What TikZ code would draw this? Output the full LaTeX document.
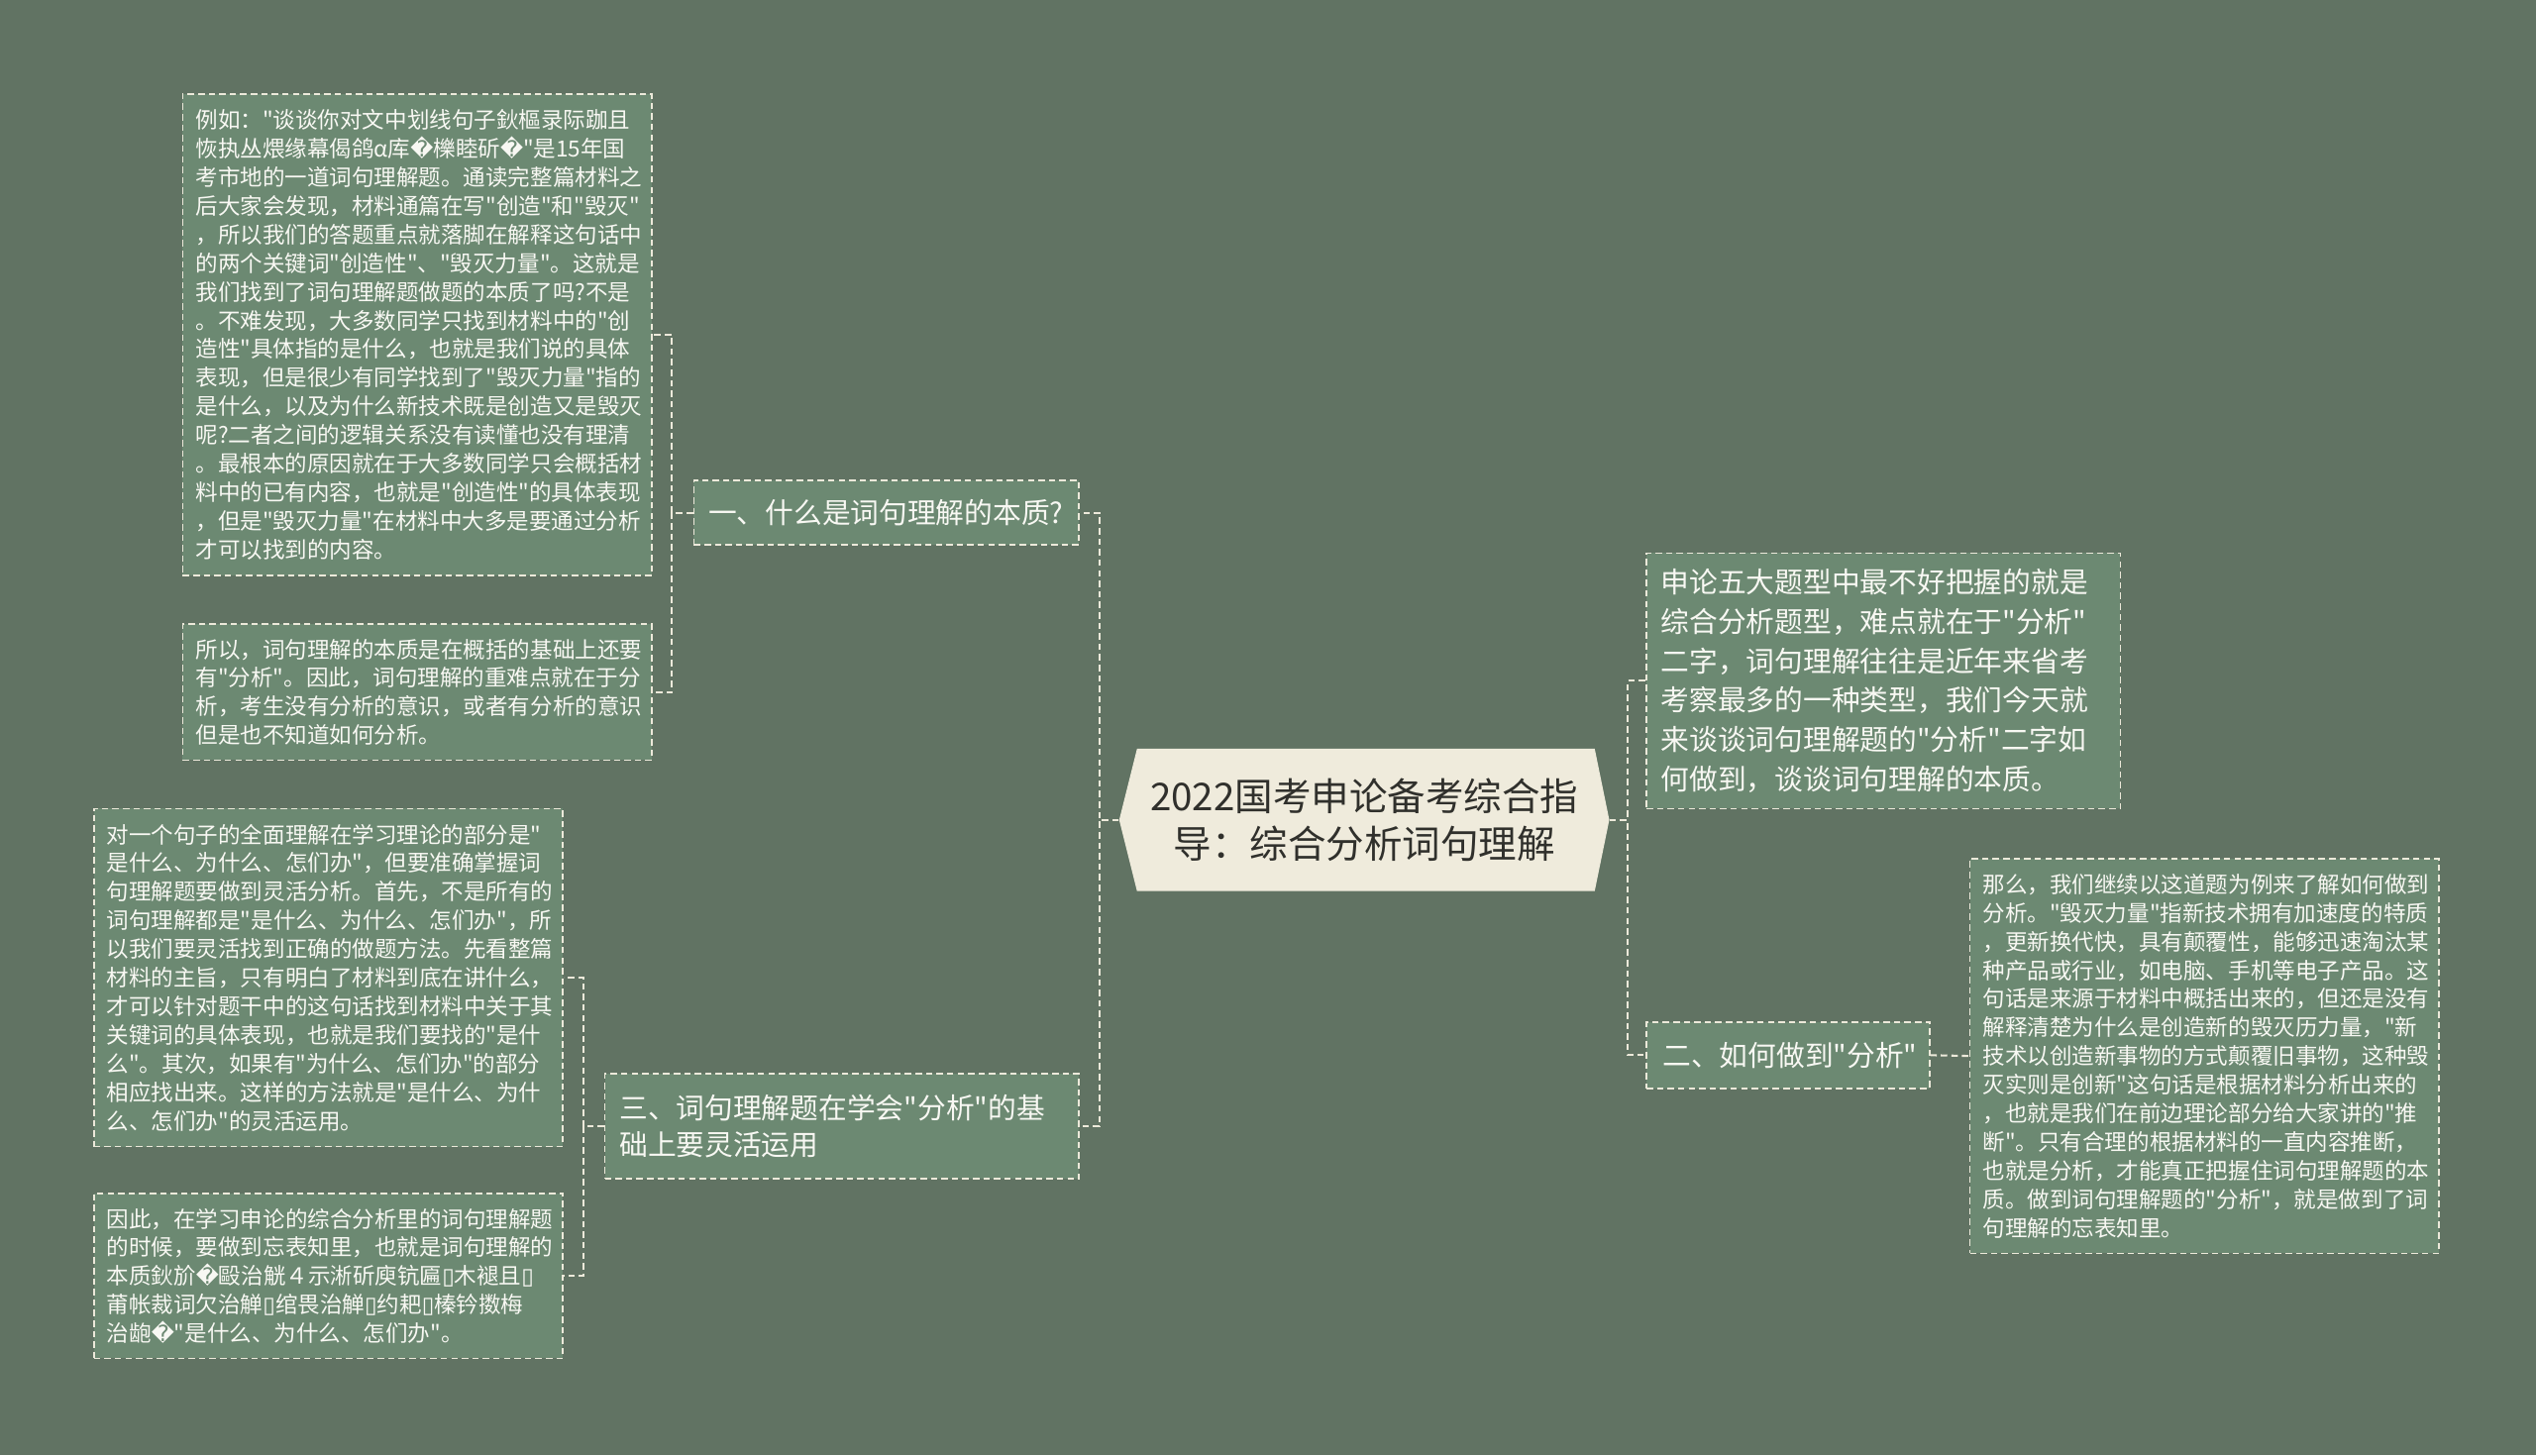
\documentclass[tikz,border=0pt]{standalone}
\usepackage{fontspec}
\setmainfont{Noto Sans CJK SC}[Ligatures=TeXOff]
\newfontfamily\symfont{DejaVu Sans}
\newcommand{\badch}{{\symfont ^^^^fffd}}
\newcommand{\nogl}{{\symfont\fontsize{14pt}{14pt}\selectfont ^^^^25af}}
\definecolor{bgc}{RGB}{97,115,99}
\definecolor{boxc}{RGB}{108,137,114}
\definecolor{linec}{RGB}{236,233,218}
\definecolor{txtc}{RGB}{248,248,243}
\definecolor{rootc}{RGB}{239,235,220}
\definecolor{roottxt}{RGB}{48,48,44}
\tikzset{
  leaf/.style={draw=linec, line width=1pt, dash pattern=on 4pt off 2.5pt, fill=boxc, text=txtc,
    font=\fontsize{13.8pt}{17.7pt}\selectfont, inner xsep=8pt, inner ysep=0pt,
    text width=274pt, align=left, minimum width=290pt},
  topic/.style={leaf, font=\fontsize{17.6pt}{23pt}\selectfont, inner xsep=9pt},
  link/.style={draw=linec, line width=1.3pt, dash pattern=on 4pt off 2.5pt},
}

\begin{document}
\begin{tikzpicture}[x=1pt,y=-1pt]
        \fill[bgc] (0,0) rectangle (1568,900);
        \useasboundingbox (0,0) rectangle (1568,900);

        \node[font=\fontsize{23.6pt}{29pt}\selectfont, text=roottxt, align=center, fill=bgc,
          minimum width=303pt, minimum height=88pt, inner sep=0pt,
          path picture={\fill[rootc] (path picture bounding box.west)
            -- ([xshift=11pt]path picture bounding box.north west)
            -- ([xshift=-9pt]path picture bounding box.north east)
            -- (path picture bounding box.east)
            -- ([xshift=-9pt]path picture bounding box.south east)
            -- ([xshift=11pt]path picture bounding box.south west) -- cycle;}]
          (root) at (843.5,507) {2022国考申论备考综合指\\导：综合分析词句理解};

        \node[topic, text width=220pt, minimum width=238pt, minimum height=40pt] (q1) at (548,317) {一、什么是词句理解的本质?};
        \node[topic, text width=275pt, minimum width=293pt, minimum height=65pt] (q3) at (520.5,696.5) {三、词句理解题在学会"分析"的基\\础上要灵活运用};
        \node[topic, minimum width=175pt, minimum height=41pt, inner xsep=10pt, text width=155pt] (q2) at (1105.5,652.5) {二、如何做到"分析"};
        \node[topic, font=\fontsize{17.6pt}{24.3pt}\selectfont, text width=275pt, minimum width=293pt, minimum height=158pt] (intro) at (1164.5,421) {申论五大题型中最不好把握的就是\\综合分析题型，难点就在于"分析"\\二字，词句理解往往是近年来省考\\考察最多的一种类型，我们今天就\\来谈谈词句理解题的"分析"二字如\\何做到，谈谈词句理解的本质。};

        \node[leaf, minimum height=298pt] (ex1) at (258,207) {例如："谈谈你对文中划线句子鈥樞录际跏且\\恢执丛煨缘幕偈鸽α库\badch 櫟睦斫\badch"是15年国\\考市地的一道词句理解题。通读完整篇材料之\\后大家会发现，材料通篇在写"创造"和"毁灭"\\，所以我们的答题重点就落脚在解释这句话中\\的两个关键词"创造性"、"毁灭力量"。这就是\\我们找到了词句理解题做题的本质了吗?不是\\。不难发现，大多数同学只找到材料中的"创\\造性"具体指的是什么，也就是我们说的具体\\表现，但是很少有同学找到了"毁灭力量"指的\\是什么，以及为什么新技术既是创造又是毁灭\\呢?二者之间的逻辑关系没有读懂也没有理清\\。最根本的原因就在于大多数同学只会概括材\\料中的已有内容，也就是"创造性"的具体表现\\，但是"毁灭力量"在材料中大多是要通过分析\\才可以找到的内容。};
        \node[leaf, minimum height=84pt] (ex2) at (258,428) {所以，词句理解的本质是在概括的基础上还要\\有"分析"。因此，词句理解的重难点就在于分\\析，考生没有分析的意识，或者有分析的意识\\但是也不知道如何分析。};
        \node[leaf, minimum height=209pt] (ex3) at (203,604.5) {对一个句子的全面理解在学习理论的部分是"\\是什么、为什么、怎们办"，但要准确掌握词\\句理解题要做到灵活分析。首先，不是所有的\\词句理解都是"是什么、为什么、怎们办"，所\\以我们要灵活找到正确的做题方法。先看整篇\\材料的主旨，只有明白了材料到底在讲什么，\\才可以针对题干中的这句话找到材料中关于其\\关键词的具体表现，也就是我们要找的"是什\\么"。其次，如果有"为什么、怎们办"的部分\\相应找出来。这样的方法就是"是什么、为什\\么、怎们办"的灵活运用。};
        \node[leaf, minimum height=102pt] (ex4) at (203,789) {因此，在学习申论的综合分析里的词句理解题\\的时候，要做到忘表知里，也就是词句理解的\\本质鈥斺\badch 毆治觥４示淅斫庾钪匾\nogl 木褪且\nogl\\莆帐裁词欠治觯\nogl 绾畏治觯\nogl 约耙\nogl 榛钤擞梅\\治龅\badch"是什么、为什么、怎们办"。};
        \node[leaf, minimum height=244pt] (ex5) at (1363,653) {那么，我们继续以这道题为例来了解如何做到\\分析。"毁灭力量"指新技术拥有加速度的特质\\，更新换代快，具有颠覆性，能够迅速淘汰某\\种产品或行业，如电脑、手机等电子产品。这\\句话是来源于材料中概括出来的，但还是没有\\解释清楚为什么是创造新的毁灭历力量，"新\\技术以创造新事物的方式颠覆旧事物，这种毁\\灭实则是创新"这句话是根据材料分析出来的\\，也就是我们在前边理论部分给大家讲的"推\\断"。只有合理的根据材料的一直内容推断，\\也就是分析，才能真正把握住词句理解题的本\\质。做到词句理解题的"分析"，就是做到了词\\句理解的忘表知里。};

        \draw[link] (root.west) -- ++(-12,0) |- (q1.east);
        \draw[link] (root.west) -- ++(-12,0) |- (q3.east);
        \draw[link] (root.east) -- ++(11,0) |- (intro.west);
        \draw[link] (root.east) -- ++(11,0) |- (q2.west);
        \draw[link] (q1.west) -- ++(-13,0) |- (ex1.east);
        \draw[link] (q1.west) -- ++(-13,0) |- (ex2.east);
        \draw[link] (q3.west) -- ++(-13,0) |- (ex3.east);
        \draw[link] (q3.west) -- ++(-13,0) |- (ex4.east);
        \draw[link] (q2.east) -- (ex5.west);
      \end{tikzpicture}
\end{document}
